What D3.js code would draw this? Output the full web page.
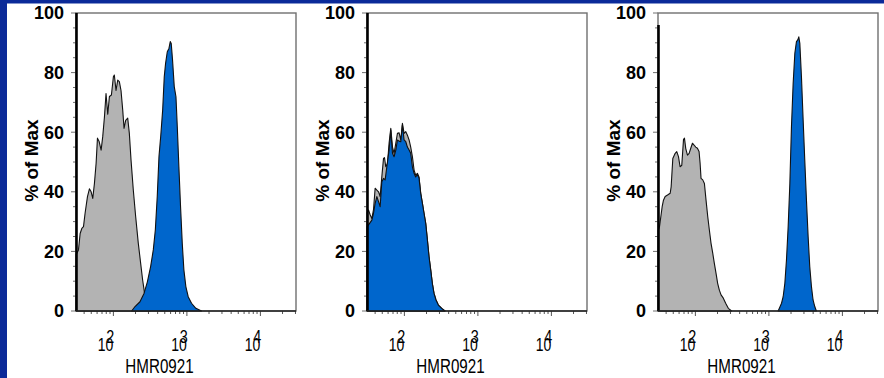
<!DOCTYPE html>
<html><head><meta charset="utf-8">
<script src="https://cdn.jsdelivr.net/npm/d3@7"></script>
<style>
html,body{margin:0;padding:0;background:#0b2a99;}
svg{display:block;}
</style></head>
<body>
<svg id="chart" width="884" height="378"></svg>
<script>
// ---- data: [intensity, % of Max] ----
const panel1Gray = [[31.2,19],[33.5,20.5],[35.3,26],[37.2,27.7],[39.2,28.3],[41.2,32.8],[44.4,38.4],[47.2,41],[49.8,40],[52.4,37.8],[55.2,42.8],[58.2,49.6],[60.7,58],[63.8,57],[68.1,54],[71.6,58.5],[75.5,65],[79.4,73],[83.8,66],[88.3,72],[94,72.5],[100,78.6],[103,79.2],[108.6,74],[114.6,77.5],[120.5,77],[127,74],[134,67.4],[139.6,61.3],[146.9,64],[156.7,64.7],[164.8,59.6],[173.8,50.7],[186.6,40.6],[200.9,31.7],[218.3,22.7],[235,16],[250,10.4],[263.6,6.5],[283,2.6],[315,0]];
const panel1Blue = [[177,0],[197,1.5],[230,3.1],[261,5.9],[290,9.8],[321,14.9],[349,20.5],[372,27.2],[395,38.4],[417,51.8],[440,58.5],[468,67.4],[492,78.6],[513,83.1],[541,87],[570,88.1],[594,90.4],[612,89.8],[638,84.2],[673,75.3],[710,71.9],[740,61.9],[778,48.4],[820,35],[865,22.7],[910,13.8],[968,8.2],[1042,4.8],[1156,2.6],[1324,0.9],[1581,0]];
const panel2Gray = [[31.2,33],[32.5,33.9],[34.3,32.2],[36.1,31],[38.0,34],[40.0,41.2],[42.2,40.6],[44.5,40],[46.8,38.4],[49.3,45],[52.0,51.2],[53.6,51.5],[55.8,48.4],[58.9,49.5],[61.9,56.3],[65.3,61.3],[68.9,55],[72.4,52.9],[76.4,56.3],[80.4,59.6],[84.7,59.8],[89.3,57.4],[94.0,63],[99.1,59.6],[104.5,60.2],[109.9,59],[115.9,57.4],[121.9,55],[128.5,51.8],[135.5,47.3],[142.6,45.6],[150.3,46.2],[158.1,45],[166.7,39.5],[175.8,36.1],[184.9,32.8],[195,29.4],[205.6,23.8],[216.3,18.2],[228,13.8],[239.9,9.3],[252.9,5.9],[269.2,3.7],[289.7,2],[321.4,0.9],[356.4,0]];
const panel2Blue = [[31.2,28.3],[33.6,29.4],[36.1,30.5],[38.0,32.8],[40.0,36.1],[42.2,38.4],[44.5,36.7],[46.8,35],[49.3,43.4],[52.0,44.5],[54.7,44],[57.7,48.4],[61.9,54],[65.3,60.7],[68.9,52.9],[72.4,51.8],[76.4,54],[80.4,57.4],[84.7,57],[89.3,56.8],[94.0,62.4],[99.1,57.4],[104.5,56.8],[109.9,55],[115.9,54],[121.9,52.9],[128.5,48.4],[135.5,46.2],[142.6,45],[150.3,45.8],[158.1,44.6],[166.7,39.5],[175.8,36.1],[184.9,32.8],[195,29.4],[205.6,23.8],[216.3,18.2],[228,13.8],[239.9,9.3],[252.9,5.9],[269.2,3.7],[289.7,2],[321.4,0.9],[356.4,0]];
const panel3Gray = [[31.2,27],[32.5,28.3],[33.9,31.7],[35.3,35],[36.8,37.2],[38.8,38.4],[41.8,38.9],[45.4,39.5],[46.8,41.7],[49.3,51.2],[53.1,52.9],[55.8,53.5],[58.9,51.8],[61.9,48.4],[65.3,48.9],[68.9,57.5],[71.0,58],[74.0,54.5],[78.0,52.3],[82.2,52.9],[86.5,54.6],[91.2,56.3],[95.9,55.7],[101.2,55],[106.6,54.6],[112.2,53.5],[115.9,49.6],[119.4,44.5],[125.9,44],[132.7,42.8],[139.6,37.2],[147.2,31.7],[154.9,27.2],[163.3,22.7],[172.2,19.4],[181.1,16],[191.0,12.6],[200.9,9.3],[211.8,7],[223.4,5.4],[239.9,4.3],[258.2,2.6],[280.5,0.9],[311.2,0]];
const panel3Blue = [[1337,0],[1486,2.6],[1563,4.8],[1648,9.3],[1734,17.1],[1828,28.3],[1928,42.8],[2028,61.9],[2138,76.4],[2254,86.5],[2371,90.4],[2472,91],[2553,92],[2636,89.8],[2773,78.6],[2924,64.1],[3076,50.7],[3243,37.2],[3420,24.9],[3597,14.9],[3793,8.2],[3990,3.7],[4207,1.5],[4426,0]];
const pileUp = [100, 100, 96];           // events piled at the lowest channel
const yTicks = [0, 20, 40, 60, 80, 100];
const xDecades = [2, 3, 4];
const yLabel = "% of Max";
const xLabel = "HMR0921";

const grayArrays = [panel1Gray, panel2Gray, panel3Gray];
const blueArrays = [panel1Blue, panel2Blue, panel3Blue];

// ---- layout ----
const svg = d3.select("#chart");
svg.append("rect").attr("x", 7).attr("y", 3.5).attr("width", 877).attr("height", 374.5).attr("fill", "#fff");

const W = 220, H = 298, plotTop = 13, left0 = 76, step = 291;
const x = d3.scaleLog().domain([31, 30500]).range([0, W]);
const y = d3.scaleLinear().domain([0, 100]).range([H, 0]);
const area = d3.area().x(d => x(d[0])).y0(y(0)).y1(d => y(d[1]));

const minorX = [];
for (let e = 1; e <= 4; e++) for (let m = 1; m <= 9; m++) {
  const v = m * Math.pow(10, e);
  if (v >= 31 && v <= 30500) minorX.push(v);
}
const minorY = d3.range(0, 101, 5);
const FONT = "Liberation Sans, Arial, sans-serif";

grayArrays.forEach((gArr, i) => {
  const g = svg.append("g").attr("transform", `translate(${left0 + i * step},${plotTop})`);
  g.append("rect").attr("x", 0).attr("y", 0).attr("width", W).attr("height", H)
    .attr("fill", "none").attr("stroke", "#707070").attr("stroke-width", 1.4);
  g.selectAll(".yt").data(minorY).join("line")
    .attr("x1", d => d % 20 === 0 ? -5 : -3).attr("x2", 0)
    .attr("y1", d => y(d)).attr("y2", d => y(d))
    .attr("stroke", "#707070").attr("stroke-width", 1);
  g.selectAll(".xt").data(minorX).join("line")
    .attr("x1", d => x(d)).attr("x2", d => x(d))
    .attr("y1", H).attr("y2", d => Number.isInteger(Math.round(Math.log10(d) * 1000) / 1000) ? H + 5 : H + 3)
    .attr("stroke", "#555").attr("stroke-width", 1);
  g.append("path").datum(gArr).attr("d", area)
    .attr("fill", "#b3b3b3").attr("stroke", "#111").attr("stroke-width", 1.1).attr("stroke-linejoin", "round");
  g.append("path").datum(blueArrays[i]).attr("d", area)
    .attr("fill", "#0066cc").attr("stroke", "#111").attr("stroke-width", 1.1).attr("stroke-linejoin", "round");
  g.append("line").attr("x1", x(31) + 0.5).attr("x2", x(31) + 0.5)
    .attr("y1", y(0)).attr("y2", y(pileUp[i]))
    .attr("stroke", "#000").attr("stroke-width", 2.6);
  g.append("line").attr("x1", 0).attr("x2", W).attr("y1", H).attr("y2", H)
    .attr("stroke", "#222").attr("stroke-width", 1.5);
  g.selectAll(".yl").data(yTicks).join("text")
    .attr("x", -12).attr("y", d => y(d)).attr("dy", "0.36em")
    .attr("text-anchor", "end")
    .attr("font-family", FONT)
    .attr("font-weight", "bold").attr("font-size", 18).attr("fill", "#000")
    .text(d => d);
  g.append("text")
    .attr("transform", `translate(${38 - left0},${160.5 - plotTop}) rotate(-90)`)
    .attr("text-anchor", "middle")
    .attr("font-family", FONT)
    .attr("font-weight", "bold").attr("font-size", 19).attr("fill", "#000")
    .text(yLabel);
  xDecades.forEach(e => {
    const px = x(Math.pow(10, e));
    const t = g.append("text")
      .attr("transform", `translate(${px - 15.6},${351 - plotTop}) scale(0.8,1)`)
      .attr("text-anchor", "start")
      .attr("font-family", FONT)
      .attr("font-size", 17.5).attr("fill", "#000");
    t.append("tspan").text("10");
    t.append("tspan").attr("dx", -8.75).attr("dy", -8.5).attr("font-size", 18).text(e);
  });
  g.append("text")
    .attr("transform", `translate(${159.5 - left0},${373.3 - plotTop}) scale(0.76,1)`)
    .attr("text-anchor", "middle")
    .attr("font-family", FONT)
    .attr("font-size", 20).attr("fill", "#000").text(xLabel);
});
</script>
</body></html>
